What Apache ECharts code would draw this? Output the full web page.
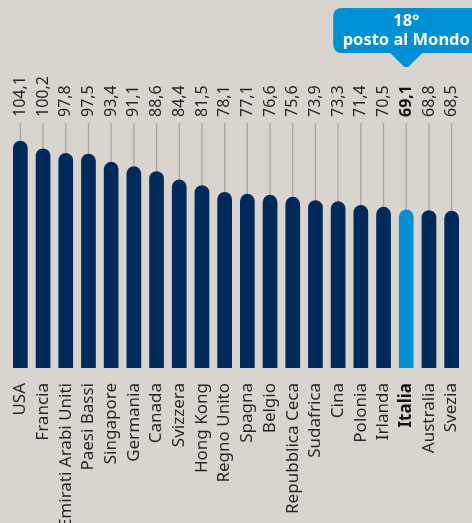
<!DOCTYPE html>
<html>
<head>
<meta charset="utf-8">
<script src="https://cdn.jsdelivr.net/npm/echarts@6/dist/echarts.min.js"></script>
<style>
  html, body { margin: 0; padding: 0; background: #d9d5ce; }
  #chart { width: 472px; height: 523px; }
</style>
</head>
<body>
<div id="chart"></div>
<script>
// paesi e valori
var paesi = ['USA', 'Francia', 'Emirati Arabi Uniti', 'Paesi Bassi', 'Singapore', 'Germania',
  'Canada', 'Svizzera', 'Hong Kong', 'Regno Unito', 'Spagna', 'Belgio', 'Repubblica Ceca',
  'Sudafrica', 'Cina', 'Polonia', 'Irlanda', 'Italia', 'Australia', 'Svezia'];
var valori = [104.1, 100.2, 97.8, 97.5, 93.4, 91.1, 88.6, 84.4, 81.5, 78.1, 77.1, 76.6, 75.6,
  73.9, 73.3, 71.4, 70.5, 69.1, 68.8, 68.5];
var evidenziato = 'Italia';
var calloutRighe = ['18°', 'posto al Mondo'];

var Y_MIN = -11.4, Y_MAX = 113.1;
var BLU = '#002a5c', AZZURRO = '#0091d5';

var chart = echarts.init(document.getElementById('chart'));

function fmt(v) {
  return v.toFixed(1).replace('.', ',');
}

var option = {
  backgroundColor: '#d9d5ce',
  animation: false,
  grid: { left: 9, right: 9, top: 123, bottom: 155, containLabel: false, outerBoundsMode: 'none' },
  xAxis: {
    type: 'category',
    data: paesi,
    axisLine: { show: false },
    axisTick: { show: false },
    axisLabel: {
      rotate: 90,
      margin: 15,
      fontFamily: 'Noto Sans',
      fontSize: 17,
      color: '#262626',
      formatter: function (v) {
        return v === evidenziato ? '{b|' + v + '}' : v;
      },
      rich: { b: { fontWeight: 'bold', fontFamily: 'Noto Sans', fontSize: 17, color: '#141414' } }
    }
  },
  yAxis: { type: 'value', min: Y_MIN, max: Y_MAX, show: false },
  series: [{
    type: 'custom',
    data: valori,
    renderItem: function (params, api) {
      var i = params.dataIndex;
      var v = api.value(1);
      var cs = params.coordSys;
      var top = api.coord([i, v]);
      var base = api.coord([i, Y_MIN]);
      var w = 14.7;
      var x = top[0];
      var isIt = paesi[i] === evidenziato;
      return {
        type: 'group',
        children: [{
          type: 'line',
          shape: { x1: x, y1: cs.y, x2: x, y2: top[1] + 4 },
          style: { stroke: '#a7a7a7', lineWidth: 1.3 }
        }, {
          type: 'rect',
          shape: { x: x - w / 2, y: top[1], width: w, height: base[1] - top[1], r: [w / 2, w / 2, 0, 0] },
          style: { fill: isIt ? AZZURRO : BLU }
        }, {
          type: 'text',
          x: x,
          y: cs.y - 6,
          rotation: Math.PI / 2,
          style: {
            text: fmt(v),
            x: 0, y: 0,
            align: 'left',
            verticalAlign: 'middle',
            fontFamily: 'Noto Sans',
            fontSize: 16,
            fontWeight: isIt ? 'bold' : 'normal',
            fill: isIt ? '#141414' : '#262626'
          }
        }]
      };
    }
  }]
};

chart.setOption(option);

// fumetto sopra la barra evidenziata
var cx = chart.convertToPixel({ xAxisIndex: 0 }, evidenziato);
chart.setOption({
  graphic: [{
    type: 'group',
    left: cx - 73,
    top: 8,
    children: [{
      type: 'rect',
      shape: { x: 0, y: 0, width: 146, height: 45, r: 8 },
      style: { fill: AZZURRO }
    }, {
      type: 'polygon',
      shape: { points: [[56, 44], [90, 44], [75, 59], [71, 59]] },
      style: { fill: AZZURRO }
    }, {
      type: 'text',
      style: {
        text: calloutRighe.join('\n'),
        x: 73, y: 22.5,
        align: 'center',
        verticalAlign: 'middle',
        lineHeight: 19,
        fontFamily: 'Noto Sans',
        fontWeight: 'bold',
        fontSize: 16.5,
        fill: '#ffffff'
      }
    }]
  }]
});
</script>
</body>
</html>
